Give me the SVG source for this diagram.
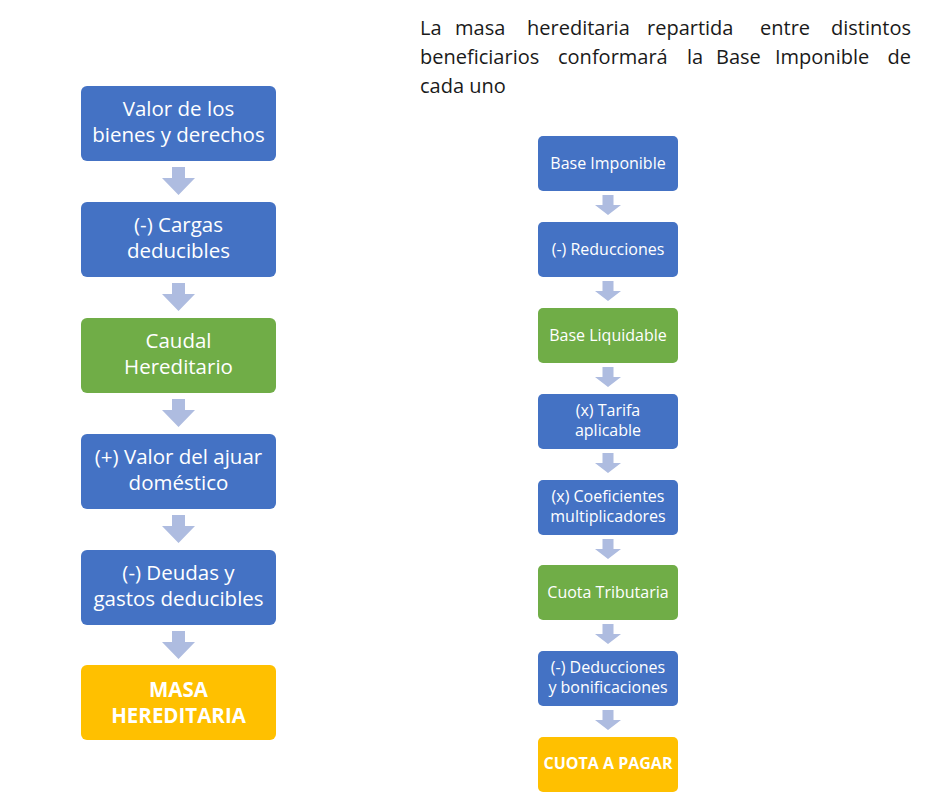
<svg xmlns="http://www.w3.org/2000/svg" width="927" height="805" viewBox="0 0 927 805">
<style>
.blue{fill:#4472C4}
.green{fill:#70AD47}
.gold{fill:#FFC000}
.arrow{fill:#AEBCE0}
.lt{font-family:"Open Sans","Liberation Sans",sans-serif;font-size:20.5px;fill:#fff;text-anchor:middle}
.rt{font-family:"Open Sans","Liberation Sans",sans-serif;font-size:16px;fill:#fff;text-anchor:middle}
.b{font-weight:bold}
.title{font-family:"Open Sans","Liberation Sans",sans-serif;font-size:20px;fill:#1a1a1a}
</style>
<rect width="927" height="805" fill="#fff"/>
<g id="title" class="title">
<text x="420" y="35">La</text><text x="455" y="35">masa</text><text x="527" y="35">hereditaria</text><text x="647" y="35">repartida</text><text x="760" y="35">entre</text><text x="911" y="35" text-anchor="end">distintos</text>
<text x="420" y="64">beneficiarios</text><text x="558" y="64">conformará</text><text x="687" y="64">la</text><text x="716" y="64">Base</text><text x="775" y="64">Imponible</text><text x="911" y="64" text-anchor="end">de</text>
<text x="420" y="93">cada uno</text>
</g>
<g id="connectors">
<polygon class="arrow" points="172,167 185,167 185,178 195,178 178.5,195 162,178 172,178"/>
<polygon class="arrow" points="172,283 185,283 185,294 195,294 178.5,311 162,294 172,294"/>
<polygon class="arrow" points="172,399 185,399 185,410 195,410 178.5,427 162,410 172,410"/>
<polygon class="arrow" points="172,515 185,515 185,526 195,526 178.5,543 162,526 172,526"/>
<polygon class="arrow" points="172,631 185,631 185,642 195,642 178.5,659 162,642 172,642"/>
<polygon class="arrow" points="602.5,195 613.5,195 613.5,205 621,205 608,215 595,205 602.5,205"/>
<polygon class="arrow" points="602.5,281 613.5,281 613.5,291 621,291 608,301 595,291 602.5,291"/>
<polygon class="arrow" points="602.5,367 613.5,367 613.5,377 621,377 608,387 595,377 602.5,377"/>
<polygon class="arrow" points="602.5,453 613.5,453 613.5,463 621,463 608,473 595,463 602.5,463"/>
<polygon class="arrow" points="602.5,539 613.5,539 613.5,549 621,549 608,559 595,549 602.5,549"/>
<polygon class="arrow" points="602.5,624 613.5,624 613.5,634 621,634 608,644 595,634 602.5,634"/>
<polygon class="arrow" points="602.5,710 613.5,710 613.5,720 621,720 608,730 595,720 602.5,720"/>
</g>
<g id="l1"><rect class="blue" x="81" y="86" width="195" height="75" rx="6"/><text class="lt" x="178.5" y="116">Valor de los</text><text class="lt" x="178.5" y="142">bienes y derechos</text></g>
<g id="l2"><rect class="blue" x="81" y="202" width="195" height="75" rx="6"/><text class="lt" x="178.5" y="232">(-) Cargas</text><text class="lt" x="178.5" y="258">deducibles</text></g>
<g id="l3"><rect class="green" x="81" y="318" width="195" height="75" rx="6"/><text class="lt" x="178.5" y="348">Caudal</text><text class="lt" x="178.5" y="374">Hereditario</text></g>
<g id="l4"><rect class="blue" x="81" y="434" width="195" height="75" rx="6"/><text class="lt" x="178.5" y="464">(+) Valor del ajuar</text><text class="lt" x="178.5" y="490">doméstico</text></g>
<g id="l5"><rect class="blue" x="81" y="550" width="195" height="75" rx="6"/><text class="lt" x="178.5" y="580">(-) Deudas y</text><text class="lt" x="178.5" y="606">gastos deducibles</text></g>
<g id="l6"><rect class="gold" x="81" y="665" width="195" height="75" rx="6"/><text class="lt b" x="178.5" y="697" font-size="19.5">MASA</text><text class="lt b" x="178.5" y="723" font-size="19.5">HEREDITARIA</text></g>
<g id="r1"><rect class="blue" x="538" y="136" width="140" height="55" rx="5"/><text class="rt" x="608" y="169">Base Imponible</text></g>
<g id="r2"><rect class="blue" x="538" y="222" width="140" height="55" rx="5"/><text class="rt" x="608" y="255">(-) Reducciones</text></g>
<g id="r3"><rect class="green" x="538" y="308" width="140" height="55" rx="5"/><text class="rt" x="608" y="341">Base Liquidable</text></g>
<g id="r4"><rect class="blue" x="538" y="394" width="140" height="55" rx="5"/><text class="rt" x="608" y="416">(x) Tarifa</text><text class="rt" x="608" y="436">aplicable</text></g>
<g id="r5"><rect class="blue" x="538" y="480" width="140" height="55" rx="5"/><text class="rt" x="608" y="502">(x) Coeficientes</text><text class="rt" x="608" y="522">multiplicadores</text></g>
<g id="r6"><rect class="green" x="538" y="565" width="140" height="55" rx="5"/><text class="rt" x="608" y="598">Cuota Tributaria</text></g>
<g id="r7"><rect class="blue" x="538" y="651" width="140" height="55" rx="5"/><text class="rt" x="608" y="673">(-) Deducciones</text><text class="rt" x="608" y="693">y bonificaciones</text></g>
<g id="r8"><rect class="gold" x="538" y="737" width="140" height="55" rx="5"/><text class="rt b" x="608" y="769" font-size="14">CUOTA A PAGAR</text></g>
</svg>
